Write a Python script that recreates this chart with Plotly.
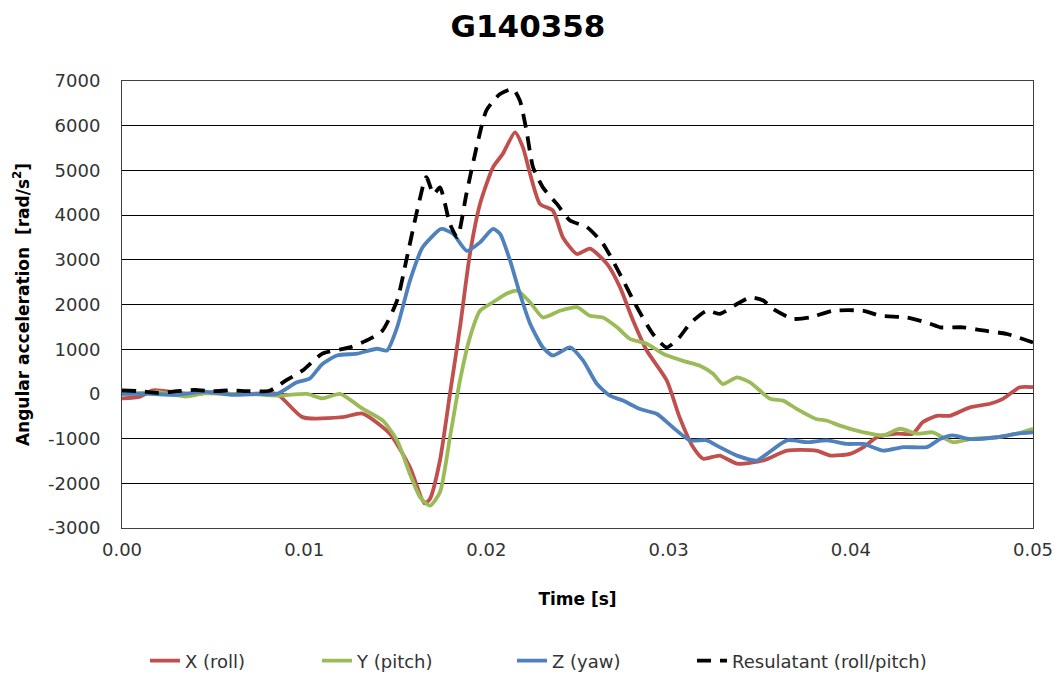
import plotly.graph_objects as go

# Time [s] and values [rad/s^2]
t_x = [0.0, 0.001, 0.0017, 0.003, 0.004, 0.005, 0.006, 0.007, 0.0085, 0.0099, 0.0121, 0.0132, 0.0147, 0.0158,
       0.0166, 0.0169, 0.01745, 0.018, 0.01855, 0.0191, 0.01965, 0.02036, 0.0209, 0.02157, 0.022, 0.0224,
       0.02294, 0.02365, 0.0242, 0.02497, 0.02568, 0.02662, 0.02733, 0.02805, 0.0288, 0.0299, 0.0306,
       0.03134, 0.0319, 0.0328, 0.03375, 0.0352, 0.0365, 0.0381, 0.0389, 0.03996, 0.0407, 0.04144,
       0.04253, 0.0434, 0.04396, 0.04473, 0.04544, 0.04654, 0.04764, 0.04835, 0.04928, 0.05]
v_x = [-100, -60, 80, 30, -10, 40, 0, 0, 0, -520, -520, -440, -890, -1640,
       -2450, -2350, -1490, 0, 1490, 3140, 4250, 5070, 5370, 5850, 5520, 4920,
       4250, 4100, 3500, 3130, 3250, 2910, 2390, 1640, 970, 300, -520,
       -1190, -1450, -1380, -1560, -1490, -1270, -1270, -1380, -1340, -1190, -970,
       -890, -890, -630, -490, -490, -300, -220, -110, 150, 150]

t_y = [0.0, 0.001, 0.002, 0.0035, 0.0045, 0.006, 0.007, 0.0085, 0.01015, 0.011, 0.01197, 0.0132, 0.01432,
       0.0151, 0.0158, 0.01636, 0.0169, 0.01745, 0.018, 0.01855, 0.0191, 0.01965, 0.02036, 0.0211,
       0.02168, 0.0224, 0.0231, 0.02404, 0.02497, 0.02568, 0.0264, 0.02717, 0.02788, 0.0288, 0.02969,
       0.03079, 0.03172, 0.03244, 0.03298, 0.03375, 0.03447, 0.03557, 0.03628, 0.03705, 0.0381, 0.0387,
       0.0394, 0.0407, 0.04177, 0.0427, 0.04363, 0.0445, 0.0456, 0.04654, 0.04802, 0.04912, 0.05]
v_y = [0, 20, 40, -60, 10, 0, 0, -40, 0, -100, 0, -330, -600,
       -1040, -1790, -2310, -2500, -2200, -970, 300, 1270, 1860, 2050, 2240,
       2310, 2050, 1710, 1860, 1940, 1750, 1710, 1490, 1230, 1120, 900,
       740, 630, 450, 220, 370, 260, -110, -150, -340, -560, -600,
       -710, -860, -930, -780, -890, -860, -1080, -1010, -970, -890, -780]

t_z = [0.0, 0.0015, 0.003, 0.0045, 0.006, 0.0075, 0.0085, 0.0096, 0.0103, 0.011, 0.0118, 0.0129, 0.014,
       0.01454, 0.0151, 0.0158, 0.0165, 0.01745, 0.0176, 0.01817, 0.01893, 0.01965, 0.02036, 0.02075,
       0.0213, 0.02184, 0.0224, 0.0231, 0.02365, 0.02459, 0.0253, 0.02607, 0.02678, 0.0275, 0.02843,
       0.02936, 0.03024, 0.03117, 0.0321, 0.0328, 0.03375, 0.03485, 0.0354, 0.0365, 0.0376, 0.0387,
       0.0398, 0.0407, 0.04177, 0.04287, 0.04418, 0.0449, 0.0456, 0.04654, 0.04802, 0.04912, 0.05]
v_z = [0, 0, -20, 50, -20, 0, 0, 260, 340, 670, 860, 900, 1010,
       970, 1490, 2530, 3280, 3680, 3690, 3580, 3200, 3390, 3690, 3580,
       2980, 2240, 1570, 1040, 860, 1040, 750, 220, -40, -150, -340,
       -450, -750, -1040, -1040, -1190, -1380, -1490, -1340, -1040, -1080, -1040,
       -1120, -1120, -1270, -1190, -1190, -1010, -930, -1010, -970, -890, -860]

t_r = [0.0, 0.001, 0.002, 0.003, 0.004, 0.005, 0.006, 0.007, 0.0081, 0.009, 0.0099, 0.011, 0.0125, 0.0136,
       0.0143, 0.0151, 0.0156, 0.0162, 0.0167, 0.0171, 0.01745, 0.018, 0.0184, 0.0189, 0.0195, 0.02,
       0.02075, 0.02146, 0.02184, 0.0222, 0.02256, 0.0231, 0.02387, 0.02459, 0.02552, 0.0264, 0.02733,
       0.02826, 0.02914, 0.0299, 0.0306, 0.03117, 0.0321, 0.0328, 0.03375, 0.0345, 0.0352, 0.03573,
       0.03683, 0.03776, 0.03902, 0.0407, 0.0416, 0.0431, 0.04435, 0.0449, 0.04616, 0.04725, 0.04857, 0.05]
v_r = [80, 60, 20, 60, 90, 60, 80, 60, 70, 300, 520, 900, 1040, 1230,
       1420, 2090, 2980, 4100, 4850, 4470, 4620, 3800, 3500, 4470, 5590, 6340,
       6710, 6820, 6560, 5890, 5070, 4620, 4250, 3880, 3730, 3360, 2680,
       1940, 1340, 1040, 1270, 1570, 1860, 1790, 2010, 2160, 2090, 1900,
       1680, 1710, 1860, 1860, 1750, 1710, 1570, 1490, 1490, 1420, 1340, 1150]

x_ticks = [0.0, 0.01, 0.02, 0.03, 0.04, 0.05]
y_ticks = list(range(-3000, 7001, 1000))
y_ticktext = [str(v) for v in y_ticks]

FONT = "DejaVu Sans"
W = 3.8

# page has an 8px body margin -> figure drawn at (8, 8)
FIG_W, FIG_H = 1054, 671
ML, MR, MT, MB = 114, 29, 73, 151
PLOT_W = FIG_W - ML - MR
PLOT_H = FIG_H - MT - MB

series = [
    ("X (roll)", t_x, v_x, "#C0504D", "solid", "legend"),
    ("Y (pitch)", t_y, v_y, "#9BBB59", "solid", "legend2"),
    ("Z (yaw)", t_z, v_z, "#4F81BD", "solid", "legend3"),
    ("Resulatant (roll/pitch)", t_r, v_r, "#000000", "14px,9px", "legend4"),
]

fig = go.Figure()
for name, tx, vy, col, dash, lg in series:
    fig.add_trace(go.Scatter(x=tx, y=vy, mode="lines", name=name, legend=lg,
                             line=dict(color=col, width=W, dash=dash, shape="spline", smoothing=0.6)))

# legend text starts (screen px) in the reference
legend_text_x = [186, 358, 553, 733]
legend_y = (MT + PLOT_H - (661 - 8)) / PLOT_H


def legend_cfg(xs):
    return dict(orientation="h", x=(xs - 41 - 8 - ML) / PLOT_W, xanchor="left",
                y=legend_y, yanchor="middle", bgcolor="rgba(0,0,0,0)",
                font=dict(family=FONT, size=18, color="#333333"))


fig.update_layout(
    width=FIG_W, height=FIG_H,
    paper_bgcolor="white", plot_bgcolor="white",
    margin=dict(l=ML, r=MR, t=MT, b=MB, autoexpand=False),
    font=dict(family=FONT, size=18, color="#000000"),
    title=dict(text="<b>G140358</b>", xref="container", x=(528 - 8) / FIG_W, xanchor="center",
               yref="container", y=1 - (26 - 8) / FIG_H, yanchor="middle",
               font=dict(family=FONT, size=31, color="#000000")),
    showlegend=True,
    legend=legend_cfg(legend_text_x[0]),
    legend2=legend_cfg(legend_text_x[1]),
    legend3=legend_cfg(legend_text_x[2]),
    legend4=legend_cfg(legend_text_x[3]),
    xaxis=dict(range=[0, 0.05], tickvals=x_ticks, tickformat=".2f", showgrid=False,
               showline=True, linecolor="#404040", linewidth=1, mirror=True, zeroline=False,
               ticks="", tickfont=dict(size=18, color="#333333"), automargin=False, ticklabelstandoff=5,
               title=dict(text="<b>Time [s]</b>", font=dict(size=17), standoff=34)),
    yaxis=dict(range=[-3000, 7000], tickvals=y_ticks, ticktext=y_ticktext, showgrid=True,
               gridcolor="#000000", gridwidth=1,
               showline=True, linecolor="#404040", linewidth=1, mirror=True, zeroline=False,
               ticks="", tickfont=dict(size=18, color="#333333"), automargin=False, ticklabelstandoff=17,
               title=dict(text="<b>Angular acceleration  [rad/s<sup>2</sup>]</b>", font=dict(size=17),
                          standoff=14)),
)

fig.write_html("out.html")
